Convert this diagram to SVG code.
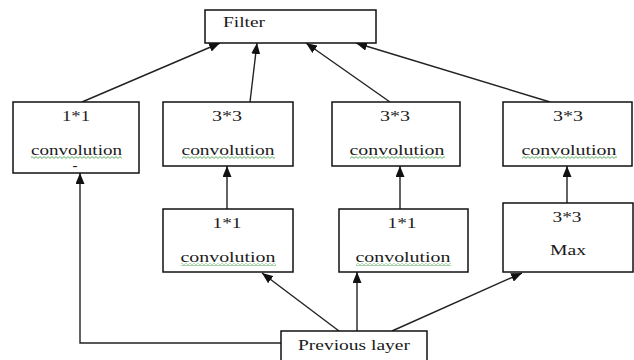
<svg xmlns="http://www.w3.org/2000/svg" width="634" height="360" viewBox="0 0 634 360">
<style>
.box{fill:#fff;stroke:#111;stroke-width:1.5}
.t{font-family:'Liberation Serif','DejaVu Serif',serif;font-size:15px;fill:#1a1a1a;text-anchor:middle}
.c{stroke:#222;stroke-width:1.4;fill:none;marker-end:url(#ah)}
.sq{fill:url(#wave)}
</style>
<defs>
<marker id="ah" markerUnits="userSpaceOnUse" markerWidth="11" markerHeight="9" refX="11" refY="4.5" orient="auto">
<path d="M0,0 L11,4.5 L0,9 z" fill="#111"/>
</marker>
<pattern id="wave" width="4" height="3" patternUnits="userSpaceOnUse">
<path d="M0,0.6 L2,2.4 L4,0.6" stroke="#3a9a3a" stroke-width="0.8" fill="none"/>
</pattern>
</defs>

<g id="connectors">
<line class="c" x1="82" y1="102" x2="220" y2="43"/>
<line class="c" x1="250" y1="102" x2="257" y2="43"/>
<line class="c" x1="390" y1="102" x2="306" y2="43"/>
<line class="c" x1="550" y1="102" x2="356" y2="43"/>
<line class="c" x1="227" y1="209" x2="227" y2="166"/>
<line class="c" x1="400" y1="209" x2="400" y2="166"/>
<line class="c" x1="567" y1="203" x2="567" y2="166"/>
<line class="c" x1="339" y1="331" x2="262" y2="273"/>
<line class="c" x1="357" y1="331" x2="357" y2="272"/>
<line class="c" x1="392" y1="331" x2="522" y2="273"/>
<polyline class="c" points="281,343 80,343 80,173"/>
</g>

<g id="filter">
<rect class="box" x="205" y="10" width="171" height="33"/>
<text class="t" x="244" y="27" textLength="42" lengthAdjust="spacingAndGlyphs">Filter</text>
</g>

<g id="conv1x1-a">
<rect class="box" x="13" y="102" width="126" height="71"/>
<text class="t" x="76" y="121" textLength="28" lengthAdjust="spacingAndGlyphs">1*1</text>
<text class="t" x="76.5" y="155" textLength="91" lengthAdjust="spacingAndGlyphs">convolution</text>
<rect class="sq" x="31" y="156" width="91" height="3"/>
<text class="t" x="75" y="170" font-size="10">-</text>
</g>

<g id="conv3x3-a">
<rect class="box" x="163" y="102" width="130" height="64"/>
<text class="t" x="227" y="121" textLength="30" lengthAdjust="spacingAndGlyphs">3*3</text>
<text class="t" x="228" y="155" textLength="93" lengthAdjust="spacingAndGlyphs">convolution</text>
<rect class="sq" x="182" y="156" width="93" height="3"/>
</g>

<g id="conv3x3-b">
<rect class="box" x="332" y="102" width="128" height="64"/>
<text class="t" x="395" y="121" textLength="30" lengthAdjust="spacingAndGlyphs">3*3</text>
<text class="t" x="397" y="155" textLength="95" lengthAdjust="spacingAndGlyphs">convolution</text>
<rect class="sq" x="350" y="156" width="95" height="3"/>
</g>

<g id="conv3x3-c">
<rect class="box" x="503" y="102" width="129" height="64"/>
<text class="t" x="568" y="121" textLength="30" lengthAdjust="spacingAndGlyphs">3*3</text>
<text class="t" x="569" y="155" textLength="95" lengthAdjust="spacingAndGlyphs">convolution</text>
<rect class="sq" x="522" y="156" width="95" height="3"/>
</g>

<g id="conv1x1-b">
<rect class="box" x="163" y="209" width="130" height="63"/>
<text class="t" x="227" y="228" textLength="29" lengthAdjust="spacingAndGlyphs">1*1</text>
<text class="t" x="228" y="262" textLength="95" lengthAdjust="spacingAndGlyphs">convolution</text>
<rect class="sq" x="181" y="263" width="95" height="3"/>
</g>

<g id="conv1x1-c">
<rect class="box" x="339" y="209" width="129" height="63"/>
<text class="t" x="402" y="228" textLength="29" lengthAdjust="spacingAndGlyphs">1*1</text>
<text class="t" x="403" y="262" textLength="95" lengthAdjust="spacingAndGlyphs">convolution</text>
<rect class="sq" x="356" y="263" width="95" height="3"/>
</g>

<g id="maxpool">
<rect class="box" x="503" y="203" width="130" height="69"/>
<text class="t" x="567" y="222" textLength="29" lengthAdjust="spacingAndGlyphs">3*3</text>
<text class="t" x="568" y="255" textLength="36" lengthAdjust="spacingAndGlyphs">Max</text>
</g>

<g id="previous-layer">
<rect class="box" x="281" y="331" width="146" height="40"/>
<text class="t" x="354" y="350" textLength="112" lengthAdjust="spacingAndGlyphs">Previous layer</text>
</g>
</svg>
